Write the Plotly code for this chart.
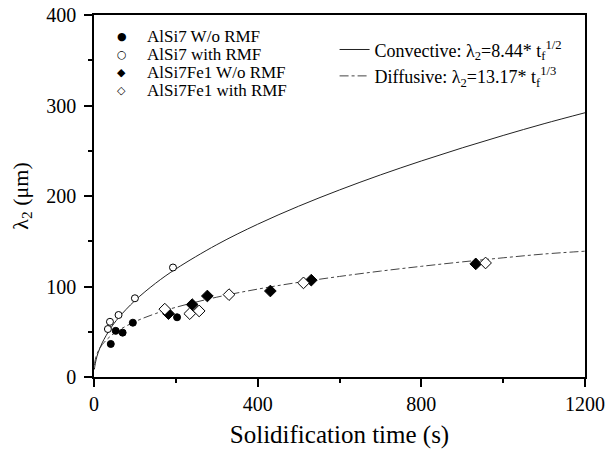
import plotly.graph_objects as go

# ---- data ----
alsi7_wo_t = [41, 53, 70, 95, 203]
alsi7_wo_l = [36.5, 51, 49, 60, 66]

alsi7_with_t = [34, 39, 60, 100, 193]
alsi7_with_l = [53, 61, 68.5, 87, 121]

fe1_wo_t = [182, 240, 277, 431, 531, 933]
fe1_wo_l = [70, 80, 89.5, 95, 107, 125]

fe1_with_t = [173, 234, 257, 330, 512, 957]
fe1_with_l = [75, 70, 73, 91, 104, 126]

fit_t = [1, 2, 5, 10, 20, 40, 60, 100, 150, 200, 300, 400, 500, 600, 700, 800, 900, 1000, 1100, 1200]
conv_l = [8.4, 11.9, 18.9, 26.7, 37.7, 53.4, 65.4, 84.4, 103.4, 119.4, 146.2, 168.8, 188.7, 206.7,
          223.3, 238.7, 253.2, 266.9, 279.9, 292.0]
diff_l = [13.2, 16.6, 22.5, 28.4, 35.7, 45.0, 51.5, 61.1, 70.0, 77.0, 88.2, 97.1, 104.6, 111.1,
          117.0, 122.3, 127.2, 131.7, 135.9, 139.0]

x_ticks = [0, 400, 800, 1200]
y_ticks = [0, 100, 200, 300, 400]

marker_names = ["AlSi7 W/o RMF", "AlSi7 with RMF", "AlSi7Fe1 W/o RMF", "AlSi7Fe1 with RMF"]
marker_glyphs = ["●", "○", "◆", "◇"]

FONT = "Liberation Serif"

fig = go.Figure()

fig.add_trace(go.Scatter(x=fit_t, y=conv_l, mode="lines", line=dict(color="#222222", width=1, shape="spline"),
                         name="Convective: λ<sub>2</sub>=8.44* t<sub>f</sub><sup>1/2</sup>", legend="legend2"))
fig.add_trace(go.Scatter(x=fit_t, y=diff_l, mode="lines",
                         line=dict(color="#444444", width=1, dash="dashdot", shape="spline"),
                         name="Diffusive: λ<sub>2</sub>=13.17* t<sub>f</sub><sup>1/3</sup>", legend="legend2"))

series = [
    (alsi7_wo_t, alsi7_wo_l, "circle", "black", 7),
    (alsi7_with_t, alsi7_with_l, "circle", "white", 7),
    (fe1_wo_t, fe1_wo_l, "diamond", "black", 9),
    (fe1_with_t, fe1_with_l, "diamond", "white", 9),
]
for (xs, ys, sym, fill, sz), nm in zip(series, marker_names):
    fig.add_trace(go.Scatter(x=xs, y=ys, mode="markers", name=nm, showlegend=False,
                             marker=dict(symbol=sym, color=fill, size=sz, line=dict(color="black", width=1))))

# hand-built legend for the marker series (tight row spacing as in the reference)
row_y = [0.9406, 0.8909, 0.8412, 0.7914]
for nm, gl, yy in zip(marker_names, marker_glyphs, row_y):
    fig.add_annotation(xref="paper", yref="paper", x=0.057, y=yy, text=gl, showarrow=False,
                       xanchor="center", yanchor="middle", font=dict(family="DejaVu Sans", size=11, color="black"))
    fig.add_annotation(xref="paper", yref="paper", x=0.104, y=yy, text=nm, showarrow=False,
                       xanchor="left", yanchor="middle", font=dict(family=FONT, size=17, color="black"))

axis_common = dict(showgrid=False, zeroline=False, showline=True, linecolor="black", linewidth=1.5,
                   mirror=True, ticks="outside", tickcolor="black", tickwidth=1.5, ticklen=8,
                   tickfont=dict(family=FONT, size=20, color="black"))

fig.update_xaxes(range=[0, 1200], tickmode="array", tickvals=x_ticks,
                 minor=dict(tickvals=[200, 600, 1000], ticks="outside", ticklen=4, tickcolor="black", tickwidth=1.5),
                 title=dict(text="Solidification time (s)", font=dict(family=FONT, size=25, color="black"), standoff=12),
                 **axis_common)
fig.update_yaxes(range=[0, 400], tickmode="array", tickvals=y_ticks,
                 minor=dict(tickvals=[50, 150, 250, 350], ticks="outside", ticklen=4, tickcolor="black", tickwidth=1.5),
                 title=dict(text="λ<sub>2</sub> (μm)", font=dict(family=FONT, size=22, color="black"), standoff=12),
                 ticklabelstandoff=4,
                 **axis_common)

fig.update_layout(
    width=606, height=454,
    margin=dict(l=94, r=21, t=15, b=77, autoexpand=False),
    plot_bgcolor="white", paper_bgcolor="white",
    font=dict(family=FONT, color="black"),
    legend2=dict(x=0.49, y=0.955, xanchor="left", yanchor="top", bgcolor="rgba(0,0,0,0)",
                 font=dict(family=FONT, size=18, color="black"), tracegroupgap=0, itemwidth=30),
)

fig.write_html("out.html", config={"displayModeBar": False},
               post_script="document.body.style.margin='0';document.body.style.overflow='hidden';")
